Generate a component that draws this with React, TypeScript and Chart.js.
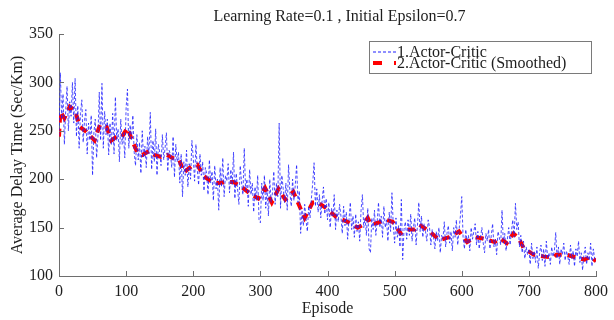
import React, { useEffect, useRef } from "react";
import { Chart, registerables } from "chart.js";

Chart.register(...registerables);

const TITLE = "Learning Rate=0.1 , Initial Epsilon=0.7";
const X_TITLE = "Episode";
const Y_TITLE = "Average Delay Time (Sec/Km)";
const RAW_LABEL = "1.Actor-Critic";
const SMOOTH_LABEL = "2.Actor-Critic (Smoothed)";

const X_TICKS = [0, 100, 200, 300, 400, 500, 600, 700, 800];
const Y_TICKS = [100, 150, 200, 250, 300, 350];

// raw series, one value every 2 episodes (episode 0 .. 800)
const RAW_STEP = 2;
const rawValues = [
  245, 310, 262, 288, 236, 271, 296, 250, 280, 265,
  300, 258, 304, 244, 276, 232, 268, 282, 238, 260,
  272, 226, 258, 240, 266, 204, 248, 262, 222, 244,
  290, 240, 299, 232, 270, 246, 262, 225, 258, 236,
  268, 226, 285, 240, 252, 218, 262, 236, 248, 222,
  274, 293, 232, 256, 240, 266, 228, 214, 246, 220,
  238, 206, 250, 222, 234, 212, 244, 226, 269, 210,
  240, 218, 252, 204, 236, 228, 214, 246, 220, 232,
  248, 208, 230, 226, 212, 244, 202, 236, 218, 228,
  196, 226, 182, 218, 204, 230, 192, 216, 200, 240,
  222, 198, 236, 210, 194, 226, 204, 218, 188, 212,
  206, 184, 220, 196, 208, 178, 214, 190, 200, 168,
  212, 192, 222, 182, 204, 198, 216, 186, 210, 194,
  228, 180, 206, 190, 174, 214, 196, 184, 232, 188,
  200, 172, 210, 184, 196, 166, 192, 178, 204, 158,
  155, 196, 178, 204, 170, 190, 162, 200, 176, 186,
  208, 174, 196, 182, 258, 170, 204, 190, 176, 196,
  168, 215, 186, 172, 200, 178, 194, 215, 176, 188,
  144, 168, 152, 174, 158, 146, 172, 160, 180, 196,
  217, 172, 190, 166, 184, 160, 178, 192, 164, 180,
  158, 176, 150, 170, 162, 184, 148, 168, 156, 174,
  162, 144, 172, 152, 166, 138, 158, 176, 148, 162,
  140, 164, 146, 156, 136, 168, 184, 150, 160, 142,
  170, 128, 124, 160, 148, 168, 142, 156, 176, 150,
  162, 140, 172, 150, 158, 136, 166, 146, 186, 152,
  134, 160, 140, 152, 130, 179, 117, 148, 156, 138,
  158, 142, 164, 136, 150, 160, 132, 152, 176, 146,
  162, 140, 154, 146, 136, 158, 150, 132, 148, 140,
  128, 146, 136, 150, 124, 142, 138, 156, 130, 144,
  152, 134, 146, 126, 150, 140, 158, 132, 148, 162,
  182, 140, 128, 148, 134, 142, 126, 150, 138, 146,
  154, 132, 146, 128, 140, 150, 134, 124, 144, 136,
  148, 128, 142, 154, 130, 138, 122, 146, 140, 132,
  168, 134, 144, 126, 138, 150, 132, 146, 158, 140,
  175, 148, 156, 130, 142, 124, 136, 118, 130, 122,
  128, 112, 134, 118, 126, 114, 130, 108, 124, 132,
  116, 128, 110, 136, 118, 124, 112, 130, 120, 126,
  145, 118, 130, 112, 128, 122, 134, 116, 126, 120,
  112, 132, 118, 126, 110, 128, 120, 136, 114, 124,
  106, 122, 130, 112, 124, 116, 134, 110, 128, 118,
  114,
];

const smoothEpisodes = [
  0, 2, 8, 16, 24, 31, 41, 53, 61, 71, 78, 86, 93, 102, 109, 117, 124, 134, 142, 152,
  161, 169, 179, 186, 197, 206, 216, 228, 238, 248, 260, 272, 285, 297, 307, 317, 327,
  337, 349, 359, 366, 378, 386, 398, 413, 430, 445, 453, 460, 465, 475, 487, 497, 509,
  519, 530, 537, 552, 567, 581, 596, 608, 620, 630, 640, 649, 657, 667, 677, 685, 692,
  707, 723, 737, 741, 756, 771, 783, 793, 800,
];
const smoothValues = [
  244, 270, 263, 275, 271, 254, 249, 240, 256, 254, 240, 244, 243, 253, 240, 227, 225, 229, 225, 223,
  225, 222, 220, 207, 213, 215, 203, 197, 196, 197, 197, 192, 185, 180, 191, 176, 190,
  179, 187, 171, 160, 176, 176, 170, 161, 156, 150, 153, 160, 153, 155, 158, 156, 144,
  148, 148, 153, 146, 137, 140, 146, 135, 140, 139, 137, 135, 139, 134, 144, 139, 129,
  122, 120, 119, 122, 122, 119, 117, 120, 115,
];

const FONT = '"Liberation Serif", "Times New Roman", serif';
const TEXT_COLOR = "#1e1e1e";
const AXIS_COLOR = "#6e6e6e";
const RAW_COLOR = "rgb(30,30,255)";
const SMOOTH_COLOR = "#ff0000";

const decorPlugin = {
  id: "decor",
  afterDraw(chart: any) {
    const { ctx, chartArea, scales } = chart;
    ctx.save();
    // inward tick marks
    ctx.strokeStyle = AXIS_COLOR;
    ctx.lineWidth = 1;
    ctx.setLineDash([]);
    X_TICKS.forEach((v) => {
      const px = Math.round(scales.x.getPixelForValue(v)) + 0.5;
      ctx.beginPath();
      ctx.moveTo(px, chartArea.bottom);
      ctx.lineTo(px, chartArea.bottom - 5);
      ctx.stroke();
    });
    Y_TICKS.forEach((v) => {
      const py = Math.round(scales.y.getPixelForValue(v)) + 0.5;
      ctx.beginPath();
      ctx.moveTo(chartArea.left, py);
      ctx.lineTo(chartArea.left + 5, py);
      ctx.stroke();
    });

    // title
    ctx.fillStyle = TEXT_COLOR;
    ctx.font = `16px ${FONT}`;
    ctx.textAlign = "center";
    ctx.textBaseline = "middle";
    ctx.fillText(TITLE, (chartArea.left + chartArea.right) / 2 + 12, 17);

    // legend
    const ds = chart.data.datasets;
    const boxL = chartArea.right - 227;
    const boxT = chartArea.top + 7;
    const boxW = 222;
    const boxH = 32;
    ctx.fillStyle = "#ffffff";
    ctx.fillRect(boxL, boxT, boxW, boxH);
    ctx.strokeStyle = "#7a7a7a";
    ctx.lineWidth = 1;
    ctx.strokeRect(Math.round(boxL) + 0.5, Math.round(boxT) + 0.5, boxW, boxH);
    const rows = [boxT + 11, boxT + 22];
    ds.forEach((d: any, i: number) => {
      const y = rows[i];
      ctx.save();
      ctx.strokeStyle = d.borderColor;
      ctx.lineWidth = i === 0 ? 1 : 4;
      ctx.setLineDash(i === 0 ? [3, 2] : [9, 12]);
      ctx.beginPath();
      ctx.moveTo(boxL + 4, y);
      ctx.lineTo(boxL + 27, y);
      ctx.stroke();
      ctx.restore();
      ctx.fillStyle = TEXT_COLOR;
      ctx.font = `16px ${FONT}`;
      ctx.textAlign = "left";
      ctx.textBaseline = "middle";
      ctx.fillText(d.label, boxL + 28, y + 1);
    });
    ctx.restore();
  },
};

export default function App() {
  const ref = useRef<HTMLCanvasElement>(null);

  useEffect(() => {
    const canvas = ref.current;
    if (!canvas) return;
    const rawData = rawValues.map((v, i) => ({ x: i * RAW_STEP, y: v }));
    const smoothData = smoothValues.map((v, i) => ({ x: smoothEpisodes[i], y: v }));
    const chart = new Chart(canvas, {
      type: "line",
      data: {
        datasets: [
          {
            label: RAW_LABEL,
            data: rawData,
            borderColor: RAW_COLOR,
            borderWidth: 0.8,
            borderDash: [3, 2],
            pointRadius: 0,
            tension: 0,
            fill: false,
          },
          {
            label: SMOOTH_LABEL,
            data: smoothData,
            borderColor: SMOOTH_COLOR,
            borderWidth: 4,
            borderDash: [8, 6],
            pointRadius: 0,
            tension: 0,
            fill: false,
          },
        ],
      },
      options: {
        responsive: false,
        animation: false,
        layout: { padding: { left: 0, right: 14, top: 34, bottom: 0 } },
        plugins: {
          legend: { display: false },
          tooltip: { enabled: false },
          title: { display: false },
        },
        scales: {
          x: {
            type: "linear",
            min: 0,
            max: 800,
            afterFit: (s: any) => {
              s.height = 44;
            },
            ticks: {
              stepSize: 100,
              padding: 6,
              color: TEXT_COLOR,
              font: { family: FONT, size: 16 },
              maxRotation: 0,
            },
            grid: { display: false, drawTicks: false },
            border: { display: true, color: AXIS_COLOR, width: 1 },
            title: {
              display: true,
              text: X_TITLE,
              color: TEXT_COLOR,
              font: { family: FONT, size: 16 },
              padding: { top: 0, bottom: 2 },
            },
          },
          y: {
            type: "linear",
            min: 100,
            max: 350,
            afterFit: (s: any) => {
              s.width = 59;
            },
            ticks: {
              stepSize: 50,
              padding: 6,
              color: TEXT_COLOR,
              font: { family: FONT, size: 16 },
            },
            grid: { display: false, drawTicks: false },
            border: { display: true, color: AXIS_COLOR, width: 1 },
            title: {
              display: true,
              text: Y_TITLE,
              color: TEXT_COLOR,
              font: { family: FONT, size: 16 },
              padding: { top: 8, bottom: 0 },
            },
          },
        },
      },
      plugins: [decorPlugin],
    });
    return () => chart.destroy();
  }, []);

  return (
    <div style={{ position: "fixed", left: 0, top: 0, width: 614, height: 320, background: "#fff" }}>
      <canvas ref={ref} width={614} height={320} style={{ display: "block", width: 614, height: 320 }} />
    </div>
  );
}
